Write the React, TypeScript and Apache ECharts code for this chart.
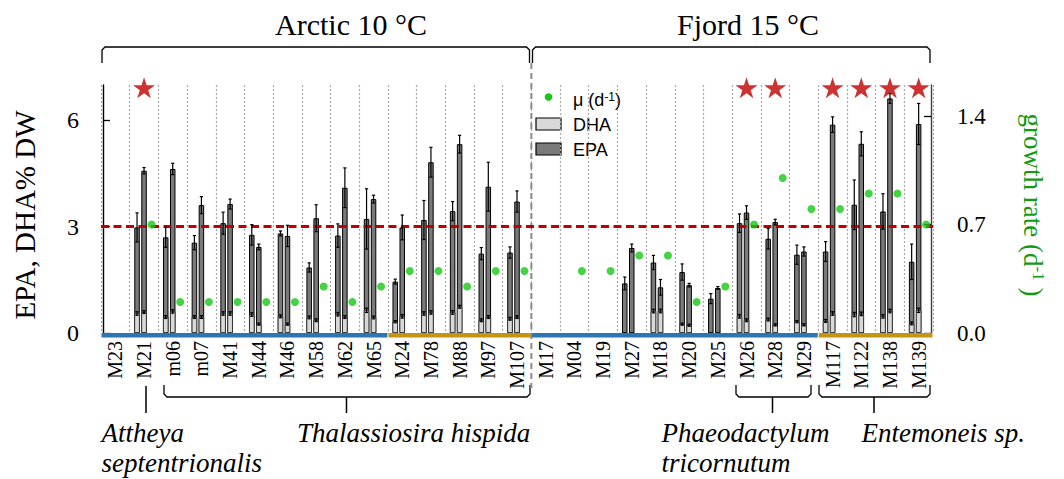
import React, { useEffect, useRef } from "react";
import * as echarts from "echarts";

// Strains, in plotting order (Arctic 10 °C block, then Fjord 15 °C block)
const CATEGORIES = [
  "M23", "M21", "m06", "m07", "M41", "M44", "M46", "M58", "M62", "M65",
  "M24", "M78", "M88", "M97", "M107",
  "M17", "M04", "M19", "M27", "M18", "M20", "M25", "M26", "M28", "M29",
  "M117", "M122", "M138", "M139",
];

// EPA content (% DW), two cultures per strain, with standard deviations
const EPA_A = [null, 2.98, 2.70, 2.55, 3.10, 2.77, 2.81, 1.85, 2.75, 3.22, 1.45, 3.19, 3.44, 2.24, 2.27, null, null, null, 1.40, 1.99, 1.72, 0.97, 3.10, 2.66, 2.21, 2.30, 3.62, 3.43, 2.01];
const EPA_B = [null, 4.58, 4.63, 3.61, 3.64, 2.43, 2.74, 3.24, 4.10, 3.78, 2.98, 4.82, 5.33, 4.13, 3.71, null, null, null, 2.40, 1.29, 1.35, 1.27, 3.40, 3.13, 2.30, 5.88, 5.34, 6.62, 5.90];
const EPA_SD_A = [null, 0.41, 0.28, 0.20, 0.31, 0.29, 0.07, 0.13, 0.33, 0.85, 0.07, 0.55, 0.27, 0.17, 0.16, null, null, null, 0.18, 0.20, 0.23, 0.14, 0.26, 0.29, 0.27, 0.28, 0.70, 0.50, 0.50];
const EPA_SD_B = [null, 0.09, 0.16, 0.24, 0.14, 0.08, 0.30, 0.38, 0.56, 0.11, 0.35, 0.42, 0.25, 0.69, 0.30, null, null, null, 0.11, 0.22, 0.05, 0.04, 0.19, 0.08, 0.13, 0.22, 0.34, 0.14, 0.58];

// DHA content (% DW)
const DHA_A = [null, 0.55, 0.45, 0.45, 0.55, 0.52, 0.47, 0.44, 0.53, 0.64, 0.32, 0.55, 0.58, 0.36, 0.40, null, null, null, 0, 0.62, 0.25, 0, 0.47, 0.38, 0.32, 0.34, 0.52, 0.47, 0.27];
const DHA_B = [null, 0.59, 0.61, 0.45, 0.55, 0.25, 0.25, 0.36, 0.45, 0.44, 0.47, 0.58, 0.74, 0.45, 0.45, null, null, null, 0, 0.62, 0.22, 0, 0.36, 0.23, 0.23, 0.55, 0.54, 0.62, 0.64];
const DHA_SD_A = [null, 0.05, 0.04, 0.04, 0.05, 0.05, 0.04, 0.04, 0.05, 0.06, 0.03, 0.05, 0.05, 0.04, 0.04, null, null, null, 0, 0.05, 0.03, 0, 0.05, 0.04, 0.03, 0.04, 0.06, 0.05, 0.04];
const DHA_SD_B = [null, 0.04, 0.05, 0.04, 0.05, 0.03, 0.03, 0.04, 0.04, 0.04, 0.05, 0.05, 0.04, 0.04, 0.04, null, null, null, 0, 0.05, 0.03, 0, 0.04, 0.03, 0.03, 0.05, 0.05, 0.05, 0.06];

// Growth rate μ (d-1)
const GROWTH = [null, 0.70, 0.20, 0.20, 0.20, 0.20, 0.20, 0.30, 0.20, 0.30, 0.40, 0.40, 0.30, 0.40, 0.40, null, 0.40, 0.40, 0.50, 0.50, 0.20, 0.30, 0.70, 1.00, 0.80, 0.80, 0.90, 0.90, 0.70];

// Strains flagged with a star
const STARRED = ["M21", "M26", "M28", "M117", "M122", "M138", "M139"];
const STAR_LEVEL = 6.92;

// Reference level of EPA (% DW)
const THRESHOLD = 3;

// Axis ticks
const LEFT_TICKS = [0, 3, 6];
const RIGHT_TICKS = [0, 0.7, 1.4];

// Site bands under the x axis: [first strain, last strain, group]
const SITE_BANDS: [string, string, number][] = [
  ["M23", "M65", 0],
  ["M24", "M107", 1],
  ["M17", "M29", 0],
  ["M117", "M139", 1],
];

const SERIF = "'Liberation Serif', 'Times New Roman', Times, serif";
const SANS = "'Liberation Sans', Arial, Helvetica, sans-serif";

const W = 1064;
const H = 479;
const GRID = { left: 101, right: 131, top: 85, bottom: 146 };

const EPA_COLOR = "#7a7a7a";
const DHA_COLOR = "#d9d9d9";
const GROWTH_COLOR = "#14c814";
const STAR_COLOR = "#c00000";
const BAND_COLORS = ["#2e75b6", "#c39512"];
const TITLE_GREEN = "#139a13";

const STAR_PATH =
  "path://M50,0L61.2,34.5L97.6,34.5L68.2,55.9L79.4,90.5L50,69.1L20.6,90.5L31.8,55.9L2.4,34.5L38.8,34.5Z";

// bar slot offsets (px) relative to the category centre: culture a, culture b, growth dot
const BAR_W = 5.5;
const BAR_GAP = "27.3%";
const SLOT_A = -7;
const SLOT_B = 0;
const SLOT_DOT = 7.5;

function buildErrorData() {
  const out: number[][] = [];
  CATEGORIES.forEach((_, i) => {
    const rows: [number | null, number | null, number][] = [
      [EPA_A[i], EPA_SD_A[i], SLOT_A],
      [EPA_B[i], EPA_SD_B[i], SLOT_B],
      [DHA_A[i], DHA_SD_A[i], SLOT_A],
      [DHA_B[i], DHA_SD_B[i], SLOT_B],
    ];
    rows.forEach(([v, sd, off]) => {
      if (v != null && sd != null && v > 0) out.push([i, v, sd, off]);
    });
  });
  return out;
}

function bracketDown(x1: number, x2: number, yTop: number, yEnd: number) {
  const r = 3;
  return {
    type: "polyline",
    shape: {
      points: [
        [x1, yEnd],
        [x1, yTop + r],
        [x1 + r, yTop],
        [x2 - r, yTop],
        [x2, yTop + r],
        [x2, yEnd],
      ],
    },
    style: { stroke: "#000", lineWidth: 1.3, fill: null },
  };
}

function bracketUp(x1: number, x2: number, stem: number, yLine: number, yEnd: number, yStem: number) {
  const r = 3;
  return [
    {
      type: "polyline",
      shape: {
        points: [
          [x1, yEnd],
          [x1, yLine - r],
          [x1 + r, yLine],
          [x2 - r, yLine],
          [x2, yLine - r],
          [x2, yEnd],
        ],
      },
      style: { stroke: "#000", lineWidth: 1.3, fill: null },
    },
    {
      type: "line",
      shape: { x1: stem, y1: yLine, x2: stem, y2: yStem },
      style: { stroke: "#000", lineWidth: 1.5 },
    },
  ];
}

function textEl(text: string, x: number, y: number, font: string, extra: any = {}) {
  return {
    type: "text",
    x,
    y,
    rotation: extra.rotation || 0,
    style: {
      text,
      font,
      fill: extra.fill || "#000",
      align: extra.align || "left",
      textAlign: extra.align || "left",
      verticalAlign: "middle",
      textVerticalAlign: "middle",
      rich: extra.rich,
    },
  };
}

function buildOption() {
  const bw = (W - GRID.left - GRID.right) / CATEGORIES.length;
  const sepX = GRID.left + bw * CATEGORIES.indexOf("M17");

  const graphic: any[] = [
    // block titles
    textEl("Arctic 10 °C", 351, 24, `30px ${SERIF}`, { align: "center" }),
    textEl("Fjord 15 °C", 748, 24, `30px ${SERIF}`, { align: "center" }),
    bracketDown(102, 529.5, 47, 63),
    bracketDown(532.5, 930, 47, 63),
    // block separator
    {
      type: "line",
      shape: { x1: sepX, y1: 63, x2: sepX, y2: 388 },
      style: { stroke: "#8c8c8c", lineWidth: 2, lineDash: [6, 4] },
      z: 1,
    },
    // axis titles
    textEl("EPA, DHA% DW", 25, 215, `29px ${SERIF}`, { align: "center", rotation: Math.PI / 2 }),
    textEl("{g|growth rate (d}{s|-1}{g| )}", 1033, 205, `27px ${SERIF}`, {
      align: "center",
      rotation: -Math.PI / 2,
      rich: {
        g: { font: `27px ${SERIF}`, fill: TITLE_GREEN },
        s: { font: `17px ${SERIF}`, fill: TITLE_GREEN, verticalAlign: "top" },
      },
    }),
    // legend
    { type: "circle", shape: { cx: 548.5, cy: 97, r: 3.8 }, style: { fill: GROWTH_COLOR } },
    textEl("{t|μ (d}{s|-1}{t|)}", 573, 100, `18px ${SANS}`, {
      rich: {
        t: { font: `18px ${SANS}`, fill: "#000" },
        s: { font: `12px ${SANS}`, fill: "#000", verticalAlign: "top" },
      },
    }),
    {
      type: "rect",
      shape: { x: 536, y: 118, width: 25, height: 12 },
      style: { fill: DHA_COLOR, stroke: "#000", lineWidth: 1.2 },
    },
    textEl("DHA", 573, 124.5, `18px ${SANS}`),
    {
      type: "rect",
      shape: { x: 536, y: 143, width: 25, height: 12 },
      style: { fill: EPA_COLOR, stroke: "#000", lineWidth: 1.2 },
    },
    textEl("EPA", 573, 149.5, `18px ${SANS}`),
    // species groups
    {
      type: "line",
      shape: { x1: 146, y1: 386, x2: 146, y2: 413 },
      style: { stroke: "#000", lineWidth: 1.5 },
    },
    ...bracketUp(164, 530, 346.5, 397, 385, 413),
    ...bracketUp(736, 811, 772.5, 397, 385, 413),
    ...bracketUp(819, 930, 874, 397, 385, 413),
    textEl("Attheya", 101.5, 433, `italic 27px ${SERIF}`),
    textEl("septentrionalis", 101.5, 463, `italic 27px ${SERIF}`),
    textEl("Thalassiosira hispida", 297, 433, `italic 27px ${SERIF}`),
    textEl("Phaeodactylum", 661.5, 433, `italic 27px ${SERIF}`),
    textEl("tricornutum", 661.5, 463, `italic 27px ${SERIF}`),
    textEl("Entemoneis sp.", 861.5, 433, `italic 27px ${SERIF}`),
  ];

  const bandData = SITE_BANDS.map(([a, b, g]) => [CATEGORIES.indexOf(a), CATEGORIES.indexOf(b), g]);
  const empty = CATEGORIES.map(() => null);

  const barCommon = {
    type: "bar",
    barWidth: BAR_W,
    barGap: BAR_GAP,
    yAxisIndex: 0,
    silent: true,
  };

  return {
    animation: false,
    backgroundColor: "#fff",
    grid: { ...GRID },
    xAxis: [
      {
        type: "category",
        data: CATEGORIES,
        boundaryGap: true,
        axisLine: { show: false },
        axisTick: { show: false },
        axisLabel: {
          rotate: 90,
          interval: 0,
          margin: 8,
          fontFamily: SERIF,
          fontSize: 20,
          color: "#000",
        },
        splitLine: {
          show: true,
          interval: 0,
          lineStyle: { type: [2, 2], color: "#a8a8a8", width: 1.2 },
        },
      },
      {
        type: "category",
        data: CATEGORIES,
        boundaryGap: true,
        show: false,
      },
    ],
    yAxis: [
      {
        type: "value",
        min: 0,
        max: 7,
        offset: -2,
        axisLine: { show: true, lineStyle: { color: "#000", width: 1.4 } },
        axisTick: {
          show: true,
          inside: true,
          length: 7,
          customValues: LEFT_TICKS,
          lineStyle: { color: "#000", width: 1.3 },
        },
        axisLabel: {
          customValues: LEFT_TICKS,
          margin: 24,
          fontFamily: SERIF,
          fontSize: 24,
          color: "#000",
        },
        splitLine: { show: false },
      },
      {
        type: "value",
        position: "right",
        min: 0,
        max: 1.6,
        offset: -2,
        axisLine: { show: true, lineStyle: { color: "#404040", width: 1.4 } },
        axisTick: {
          show: true,
          inside: true,
          length: 7,
          customValues: RIGHT_TICKS,
          lineStyle: { color: "#000", width: 1.3 },
        },
        axisLabel: {
          customValues: RIGHT_TICKS,
          margin: 26,
          fontFamily: SERIF,
          fontSize: 23,
          color: "#000",
          formatter: (v: number) => v.toFixed(1),
        },
        splitLine: { show: false },
      },
    ],
    series: [
      // reference level line, kept behind the bars
      {
        type: "line",
        data: [],
        xAxisIndex: 0,
        yAxisIndex: 0,
        z: 1,
        markLine: {
          silent: true,
          symbol: "none",
          label: { show: false },
          lineStyle: { color: STAR_COLOR, type: [8, 4.5], width: 3 },
          data: [{ yAxis: THRESHOLD }],
        },
      },
      // EPA bars
      {
        ...barCommon,
        name: "EPA",
        xAxisIndex: 0,
        data: EPA_A,
        itemStyle: { color: EPA_COLOR, borderColor: "#000", borderWidth: 1 },
      },
      {
        ...barCommon,
        name: "EPA",
        xAxisIndex: 0,
        data: EPA_B,
        itemStyle: { color: EPA_COLOR, borderColor: "#000", borderWidth: 1 },
      },
      { ...barCommon, id: "epa-slot", xAxisIndex: 0, data: empty },
      // DHA bars overlaid on the same slots
      {
        ...barCommon,
        name: "DHA",
        xAxisIndex: 1,
        data: DHA_A,
        itemStyle: { color: DHA_COLOR, borderColor: "#222", borderWidth: 0.8 },
      },
      {
        ...barCommon,
        name: "DHA",
        xAxisIndex: 1,
        data: DHA_B,
        itemStyle: { color: DHA_COLOR, borderColor: "#222", borderWidth: 0.8 },
      },
      { ...barCommon, id: "dha-slot", xAxisIndex: 1, data: empty },
      // error bars
      {
        type: "custom",
        xAxisIndex: 0,
        yAxisIndex: 0,
        z: 5,
        silent: true,
        encode: { x: 0, y: 1 },
        data: buildErrorData(),
        renderItem: (_p: any, api: any) => {
          const i = api.value(0);
          const v = api.value(1);
          const sd = api.value(2);
          const off = api.value(3);
          const c = api.coord([i, v]);
          const top = api.coord([i, v + sd])[1];
          const bot = api.coord([i, Math.max(0, v - sd)])[1];
          const x = c[0] + off;
          const st = { stroke: "#000", lineWidth: 1.2 };
          return {
            type: "group",
            children: [
              { type: "line", shape: { x1: x, y1: top, x2: x, y2: bot }, style: st },
              { type: "line", shape: { x1: x - 1.6, y1: top, x2: x + 1.6, y2: top }, style: st },
              { type: "line", shape: { x1: x - 1.6, y1: bot, x2: x + 1.6, y2: bot }, style: st },
            ],
          };
        },
      },
      // growth rate
      {
        type: "scatter",
        name: "μ (d-1)",
        xAxisIndex: 0,
        yAxisIndex: 1,
        data: GROWTH,
        symbol: "circle",
        symbolSize: 8,
        symbolOffset: [SLOT_DOT, 0],
        itemStyle: { color: GROWTH_COLOR },
        z: 6,
        silent: true,
      },
      // stars
      {
        type: "scatter",
        xAxisIndex: 0,
        yAxisIndex: 0,
        data: STARRED.map((c) => [c, STAR_LEVEL]),
        symbol: STAR_PATH,
        symbolSize: [22, 21],
        itemStyle: { color: STAR_COLOR },
        z: 6,
        silent: true,
      },
      // site bands along the x axis
      {
        type: "custom",
        xAxisIndex: 0,
        yAxisIndex: 0,
        z: 7,
        silent: true,
        encode: { x: [0, 1] },
        data: bandData,
        renderItem: (_p: any, api: any) => {
          const s = api.coord([api.value(0), 0]);
          const e = api.coord([api.value(1), 0]);
          const half = api.size([1, 0])[0] / 2;
          const x1 = s[0] - half + 0.5;
          const x2 = e[0] + half - 0.5;
          return {
            type: "rect",
            shape: { x: x1, y: s[1], width: x2 - x1, height: 4.5 },
            style: { fill: BAND_COLORS[api.value(2)] },
          };
        },
      },
    ],
    graphic,
  };
}

export default function App() {
  const ref = useRef<HTMLDivElement>(null);
  useEffect(() => {
    if (!ref.current) return;
    const chart = echarts.init(ref.current, null, { renderer: "svg" });
    chart.setOption(buildOption() as any);
    return () => chart.dispose();
  }, []);
  return (
    <div
      ref={ref}
      style={{ position: "fixed", left: 0, top: 0, width: W, height: H, background: "#fff" }}
    />
  );
}
